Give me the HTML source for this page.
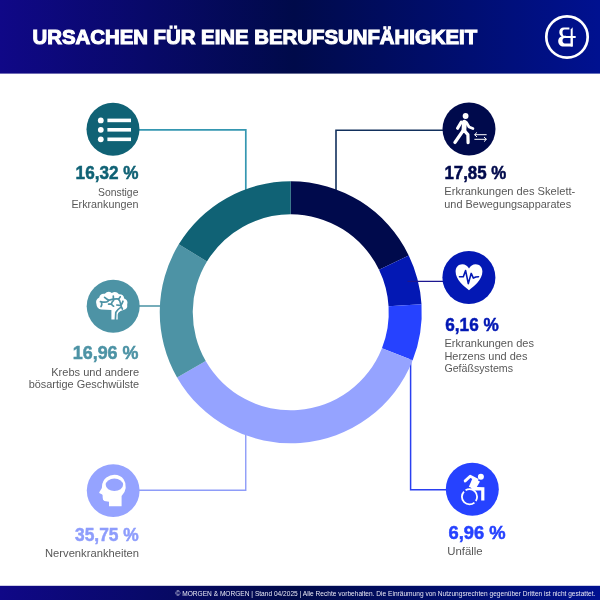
<!DOCTYPE html>
<html><head><meta charset="utf-8">
<style>
html,body{margin:0;padding:0;background:#fff;}
body{width:600px;height:600px;overflow:hidden;position:relative;font-family:"Liberation Sans",sans-serif;}
svg{position:absolute;left:0;top:0;display:block;will-change:transform;}
.t{font-family:"Liberation Sans",sans-serif;}
.pct{font-weight:bold;font-size:18.2px;stroke-width:0.5px;}
.lbl{font-size:11.8px;fill:#585858;}
</style></head>
<body>
<svg width="600" height="600" viewBox="0 0 600 600">
<defs>
<linearGradient id="hg" x1="0" y1="0" x2="600" y2="0" gradientUnits="userSpaceOnUse">
<stop offset="0" stop-color="#100887"/>
<stop offset="0.49" stop-color="#000a4a"/>
<stop offset="1" stop-color="#001190"/>
</linearGradient>
</defs>
<!-- header -->
<rect x="0" y="0" width="600" height="73.6" fill="url(#hg)"/>
<text class="t" x="32.6" y="44.2" font-size="21" font-weight="bold" fill="#fff" stroke="#fff" stroke-width="1.1" textLength="444.5" lengthAdjust="spacingAndGlyphs">URSACHEN FÜR EINE BERUFSUNFÄHIGKEIT</text>
<!-- logo -->
<circle cx="567" cy="37" r="20.7" fill="none" stroke="#fff" stroke-width="2.7"/>
<g fill="#fff" fill-rule="evenodd">
<path d="M569.4 27.6 L563.8 27.6 C561 27.6 559.3 29.6 559.3 32.3 C559.3 35 561 36.9 563.8 36.9 L566 36.9 L566 35.8 L564.6 35.8 C563.2 35.8 562.5 34.4 562.5 32.4 C562.5 30.6 563.3 29.6 564.6 29.6 L569.4 29.6 Z"/>
<path d="M572.7 36 L563.8 36 C560.2 36 558.2 38.4 558.2 41.3 C558.2 44.3 560.4 46.6 563.8 46.6 L572.7 46.6 Z M570.7 38 L564.8 38 C563.2 38 562.5 39.4 562.5 40.8 C562.5 42.3 563.3 43.4 564.8 43.4 L570.7 43.4 Z"/>
<path d="M570.7 29.6 L572.7 27.3 L572.7 46.6 L570.7 46.6 Z"/>
<rect x="561.7" y="36" width="14" height="2"/>
</g>

<!-- connector lines -->
<g fill="none" stroke-width="1.5">
<path d="M139 129.9 H245.8 V190" stroke="#3597b1" stroke-width="1.7"/>
<path d="M139 306 H161" stroke="#5498a9" stroke-width="1.6"/>
<path d="M139 490.2 H245.75 V433" stroke="#8e9cf8" stroke-width="1.4"/>
<path d="M443 130.3 H336 V190" stroke="#12305c" stroke-width="1.6"/>
<path d="M446 489.8 H410.6 V359" stroke="#2a3ff0" stroke-width="1.5"/>
</g>

<!-- donut -->
<path fill="#000a4c" d="M290.75 181.30A131 131 0 0 1 408.75 255.41L379.03 269.74A98 98 0 0 0 290.75 214.30Z"/>
<path fill="#0318b4" d="M408.75 255.41A131 131 0 0 1 421.50 304.16L388.56 306.21A98 98 0 0 0 379.03 269.74Z"/>
<path fill="#2642ff" d="M421.50 304.16A131 131 0 0 1 412.64 360.29L381.94 348.20A98 98 0 0 0 388.56 306.21Z"/>
<path fill="#95a3ff" d="M412.64 360.29A131 131 0 0 1 177.08 377.42L205.72 361.02A98 98 0 0 0 381.94 348.20Z"/>
<path fill="#4d93a5" d="M177.08 377.42A131 131 0 0 1 178.75 244.34L206.97 261.46A98 98 0 0 0 205.72 361.02Z"/>
<path fill="#106275" d="M178.75 244.34A131 131 0 0 1 290.75 181.30L290.75 214.30A98 98 0 0 0 206.97 261.46Z"/>
<!-- line over blue segment -->
<path d="M407.5 281.4 H443" stroke="#1c1790" stroke-width="1.3"/>

<!-- icon circles -->
<circle cx="113" cy="129.3" r="26.5" fill="#106275"/>
<circle cx="113.2" cy="306.2" r="26.5" fill="#4d93a5"/>
<circle cx="113.2" cy="490.6" r="26.4" fill="#95a3ff"/>
<circle cx="469" cy="129.1" r="26.5" fill="#000a4c"/>
<circle cx="468.9" cy="277.4" r="26.5" fill="#0318b4"/>
<circle cx="472.3" cy="489.2" r="26.5" fill="#2642ff"/>

<!-- list icon -->
<g fill="#fff">
<circle cx="100.8" cy="120.4" r="2.9"/>
<circle cx="100.8" cy="129.8" r="2.9"/>
<circle cx="100.8" cy="139.3" r="2.9"/>
<rect x="107.4" y="118.6" width="23.6" height="3.6"/>
<rect x="107.4" y="128" width="23.6" height="3.6"/>
<rect x="107.4" y="137.5" width="23.6" height="3.6"/>
</g>


<!-- brain icon -->
<path fill="#fff" d="M111.4 319.5 L111.4 309.9 L101.4 309.6 A6 6 0 0 1 96.4 304 A5.6 5.6 0 0 1 99.2 297.4 A4.9 4.9 0 0 1 104.8 293.8 A5.4 5.4 0 0 1 111.8 293 A5.7 5.7 0 0 1 119 294.2 A4.95 4.95 0 0 1 124.2 298.4 A4.95 4.95 0 0 1 127.2 304.4 A5 5 0 0 1 123.4 310 Q120.2 311 118.6 312.4 Q117.7 313.4 117.7 315 L117.7 319.5 Z"/>
<g fill="none" stroke="#4d93a5" stroke-width="1.7" stroke-linecap="round" stroke-linejoin="round">
<path d="M100.4 301.6 Q104 302.4 106.6 302 Q108 301.4 108.8 300.2"/>
<path d="M104.6 297.4 Q106.8 299.2 108.8 300.2 Q111 299.6 113.4 299.2 Q116 298.8 118.2 299 Q119.4 298.4 120.2 296.8"/>
<path d="M113.3 296 L113.4 299.2"/>
<path d="M113.6 300.4 Q111.6 302 111.4 304 Q112 305.4 113.6 306.2"/>
<path d="M108.6 304.2 L111.4 304.1"/>
<path d="M101.6 302.6 Q102.2 304.6 101 306.6"/>
<path d="M118.2 299 Q120.2 300.6 120.4 303 Q120.6 305.6 122.4 309"/>
<path d="M123 301.2 Q122.2 303.6 120.6 305.6"/>
<path d="M116.8 305 L119.4 305.4"/>
<path d="M120.4 307.6 Q117 309.8 115.8 312.4 L115.4 319.8"/>
</g>

<!-- head icon -->
<path fill="#fff" d="M109 506.2 L109 501.8 L104.4 500.9 Q102.6 500.2 102.7 497.8 L102.6 495.2 Q102.4 494.2 101.3 494 L99.6 493.3 Q98.9 492.8 99.4 492.1 L101.6 488.5 Q102 487.6 102 486.4 Q102.2 480.6 106.4 477.4 Q110 474.8 114.4 474.8 Q120.5 474.9 123.6 479.3 Q126.2 483 125.7 488 Q125.2 492.5 121.6 496 L121.6 506.2 Z"/>
<ellipse cx="114.4" cy="484.8" rx="8.7" ry="6.2" fill="#95a3ff"/>

<!-- walker icon -->
<g fill="none" stroke="#fff" stroke-linecap="round" stroke-linejoin="round">
<circle cx="465.6" cy="116" r="2.9" fill="#fff" stroke="none"/>
<path d="M461.2 122.2 L457.6 128.2" stroke-width="3.2"/>
<path d="M464.4 122.2 L463.9 130.6" stroke-width="4.8"/>
<path d="M466.4 122.4 L469.1 127 L472.9 128.5" stroke-width="2.8"/>
<path d="M462.6 131.4 L455 142.4" stroke-width="3.4"/>
<path d="M465 131.4 L467.9 134.6 L468.1 142.6" stroke-width="3.2"/>
<g stroke-width="1" stroke-linecap="butt">
<path d="M486.6 134.7 H474.6 M477 132.4 L474.6 134.7 L477 137"/>
<path d="M474.4 139.3 H486.4 M484 137 L486.4 139.3 L484 141.6"/>
</g>
</g>

<!-- heart icon -->
<path fill="#fff" d="M469 290.2 C464 286 455.6 279.6 455.6 271.4 C455.6 267 458.6 264.2 462.3 264.2 C465.3 264.2 467.6 266 469 268.6 C470.4 266 472.7 264.2 475.7 264.2 C479.4 264.2 482.4 267 482.4 271.4 C482.4 279.6 474 286 469 290.2 Z"/>
<path fill="none" stroke="#0318b4" stroke-width="1.6" stroke-linejoin="round" stroke-linecap="round" d="M459.5 276.8 L463.3 276.8 L465.6 270.6 L468.3 283.6 L471.2 273.4 L473.4 278.1 L475.8 277 L478.5 276.7"/>

<!-- wheelchair icon -->
<g fill="#fff">
<circle cx="480.9" cy="476.8" r="3"/>
<path d="M472.4 478.4 L480 481.4 L476.4 487.8 L468.8 487 Z"/>
<path d="M470 486.8 L484.4 487.3 L484.4 500.4 L481.2 500.4 L481.2 490.6 L473 490.6 Z"/>
</g>
<g fill="none" stroke="#fff">
<path d="M465.2 480.9 L470.2 476.3 L477 479.8" stroke-width="2.9" stroke-linejoin="round" stroke-linecap="round"/>
<circle cx="469.5" cy="496.8" r="7.6" stroke-width="1.8" stroke-dasharray="4.51 2 22.95 2 16.3"/>
</g>

<!-- texts left -->
<g class="t" text-anchor="end">
<text class="pct" x="138.5" y="179.3" fill="#106275" stroke="#106275" textLength="62.9" lengthAdjust="spacingAndGlyphs">16,32 %</text>
<text class="lbl" x="138.4" y="195.5" textLength="40.3" lengthAdjust="spacingAndGlyphs">Sonstige</text>
<text class="lbl" x="138.4" y="208" textLength="67" lengthAdjust="spacingAndGlyphs">Erkrankungen</text>

<text class="pct" x="138.5" y="358.7" fill="#4d93a5" stroke="#4d93a5" textLength="65.75" lengthAdjust="spacingAndGlyphs">16,96 %</text>
<text class="lbl" x="139.2" y="375.8" textLength="88" lengthAdjust="spacingAndGlyphs">Krebs und andere</text>
<text class="lbl" x="139.2" y="388.2" textLength="110.5" lengthAdjust="spacingAndGlyphs">bösartige Geschwülste</text>

<text class="pct" x="138.75" y="541" fill="#8e9dfc" stroke="#8e9dfc" textLength="63.75" lengthAdjust="spacingAndGlyphs">35,75 %</text>
<text class="lbl" x="139" y="556.6" textLength="94" lengthAdjust="spacingAndGlyphs">Nervenkrankheiten</text>
</g>
<!-- texts right -->
<g class="t">
<text class="pct" x="444.4" y="178.5" fill="#000a4c" stroke="#000a4c" textLength="61.9" lengthAdjust="spacingAndGlyphs">17,85 %</text>
<text class="lbl" x="444.3" y="195.1" textLength="131" lengthAdjust="spacingAndGlyphs">Erkrankungen des Skelett-</text>
<text class="lbl" x="444.3" y="207.5" textLength="126.8" lengthAdjust="spacingAndGlyphs">und Bewegungsapparates</text>

<text class="pct" x="445.25" y="330.5" fill="#0318b4" stroke="#0318b4" textLength="53.5" lengthAdjust="spacingAndGlyphs">6,16 %</text>
<text class="lbl" x="444.4" y="347" textLength="89.6" lengthAdjust="spacingAndGlyphs">Erkrankungen des</text>
<text class="lbl" x="444.4" y="359.5" textLength="83" lengthAdjust="spacingAndGlyphs">Herzens und des</text>
<text class="lbl" x="444.4" y="372" textLength="68.6" lengthAdjust="spacingAndGlyphs">Gefäßsystems</text>

<text class="pct" x="448.5" y="539" fill="#2642ff" stroke="#2642ff" textLength="57.1" lengthAdjust="spacingAndGlyphs">6,96 %</text>
<text class="lbl" x="447.3" y="555.3" textLength="35.4" lengthAdjust="spacingAndGlyphs">Unfälle</text>
</g>

<!-- footer -->
<rect x="0" y="585.8" width="600" height="14.2" fill="url(#hg)"/>
<text class="t" x="175.5" y="595.8" font-size="6.7" fill="#e8e8f4" textLength="419.8" lengthAdjust="spacingAndGlyphs">© MORGEN &amp; MORGEN | Stand 04/2025 | Alle Rechte vorbehalten. Die Einräumung von Nutzungsrechten gegenüber Dritten ist nicht gestattet.</text>
</svg>
</body></html>
